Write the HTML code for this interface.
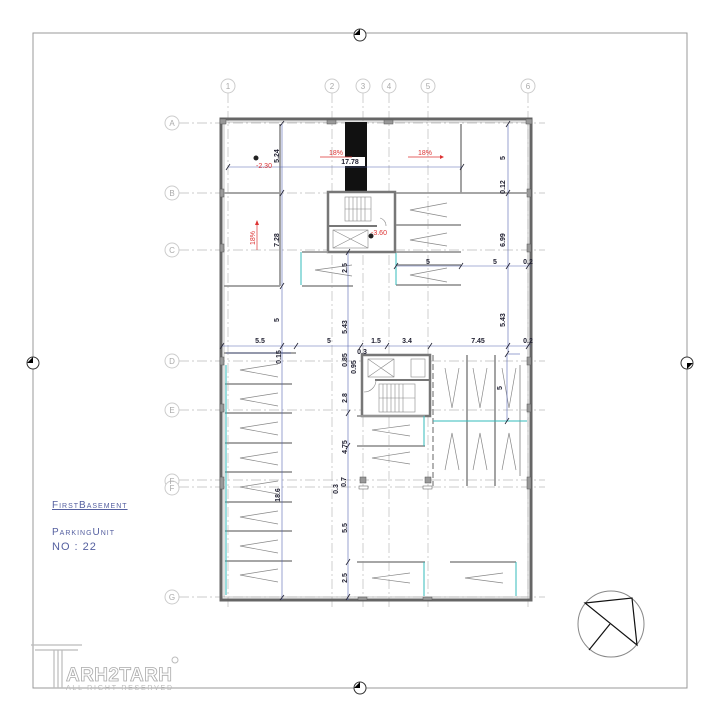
<!DOCTYPE html>
<html><head><meta charset="utf-8"><style>
html,body{margin:0;padding:0;background:#fff;}
svg{display:block;}
text{font-family:"Liberation Sans",sans-serif;}
</style></head><body>
<svg width="720" height="720" viewBox="0 0 720 720" xmlns="http://www.w3.org/2000/svg">
<rect width="720" height="720" fill="#fff"/>
<rect x="33" y="33" width="654" height="655" fill="none" stroke="#999" stroke-width="1"/>
<g fill="#fff" stroke="#333" stroke-width="1">
<circle cx="360" cy="35" r="6"/><circle cx="33" cy="363" r="6"/><circle cx="687" cy="363" r="6"/><circle cx="360" cy="688" r="6"/>
</g>
<g fill="#000"><path d="M354,35 L360,29 L360,35Z"/><path d="M27,363 L33,357 L33,363Z"/><path d="M687,363 L693,363 L687,369Z"/><path d="M354,688 L360,682 L360,688Z"/></g>

<g stroke="#bbb" stroke-width="0.7" stroke-dasharray="10,3,2,3" fill="none">
<line x1="228" y1="93" x2="228" y2="610"/>
<line x1="332" y1="93" x2="332" y2="610"/>
<line x1="363" y1="93" x2="363" y2="610"/>
<line x1="389" y1="93" x2="389" y2="610"/>
<line x1="428" y1="93" x2="428" y2="610"/>
<line x1="528" y1="93" x2="528" y2="610"/>
<line x1="179" y1="123" x2="545" y2="123"/>
<line x1="179" y1="193" x2="545" y2="193"/>
<line x1="179" y1="250" x2="545" y2="250"/>
<line x1="179" y1="361" x2="545" y2="361"/>
<line x1="179" y1="410" x2="545" y2="410"/>
<line x1="179" y1="480" x2="545" y2="480"/>
<line x1="179" y1="487" x2="545" y2="487"/>
<line x1="179" y1="597" x2="545" y2="597"/>
</g>
<g fill="#fff" stroke="#ccc" stroke-width="1">
<circle cx="228" cy="86" r="7"/><circle cx="332" cy="86" r="7"/><circle cx="363" cy="86" r="7"/><circle cx="389" cy="86" r="7"/><circle cx="428" cy="86" r="7"/><circle cx="528" cy="86" r="7"/>
<circle cx="172" cy="123" r="7"/><circle cx="172" cy="193" r="7"/><circle cx="172" cy="250" r="7"/><circle cx="172" cy="361" r="7"/><circle cx="172" cy="410" r="7"/><circle cx="172" cy="481" r="7"/><circle cx="172" cy="488" r="7"/><circle cx="172" cy="597" r="7"/>
</g>
<g fill="#aaa" font-size="8" text-anchor="middle">
<text x="228" y="89">1</text><text x="332" y="89">2</text><text x="363" y="89">3</text><text x="389" y="89">4</text><text x="428" y="89">5</text><text x="528" y="89">6</text>
<text x="172" y="126">A</text><text x="172" y="196">B</text><text x="172" y="253">C</text><text x="172" y="364">D</text><text x="172" y="413">E</text><text x="172" y="484">F</text><text x="172" y="491">F</text><text x="172" y="600">G</text>
</g>

<rect x="221" y="119" width="310" height="481" fill="none" stroke="#666" stroke-width="3"/>
<rect x="224" y="122" width="304" height="475" fill="none" stroke="#aaa" stroke-width="0.7"/>
<g fill="#999" stroke="#555" stroke-width="0.5">
<rect x="220" y="119" width="6" height="5"/><rect x="526" y="119" width="6" height="5"/>
<rect x="327" y="120" width="9" height="4"/><rect x="384" y="120" width="9" height="4"/>
<rect x="220" y="189" width="4" height="8"/><rect x="527" y="189" width="4" height="8"/>
<rect x="220" y="244" width="4" height="8"/><rect x="527" y="244" width="4" height="8"/>
<rect x="220" y="357" width="4" height="8"/><rect x="527" y="357" width="4" height="8"/>
<rect x="220" y="404" width="4" height="8"/><rect x="527" y="404" width="4" height="8"/>
<rect x="220" y="477" width="4" height="12"/><rect x="527" y="477" width="4" height="12"/>
<rect x="358" y="597" width="9" height="3"/><rect x="423" y="597" width="9" height="3"/>
<rect x="360" y="477" width="6" height="6"/><rect x="425" y="477" width="6" height="6"/>
<rect x="359" y="486" width="9" height="3" fill="#fff"/><rect x="423" y="486" width="9" height="3" fill="#fff"/>
<rect x="362" y="355" width="3" height="9"/>
</g>

<rect x="345" y="122" width="22" height="69" fill="#111"/>

<rect x="328" y="192" width="67" height="60" fill="#fff" stroke="#777" stroke-width="2.5"/>
<line x1="328" y1="226" x2="377" y2="226" stroke="#777" stroke-width="2"/>
<g stroke="#888" stroke-width="0.6">
<rect x="345" y="197" width="26" height="24" fill="none"/>
<line x1="345" y1="209" x2="371" y2="209"/>
<line x1="349" y1="197" x2="349" y2="221"/><line x1="353" y1="197" x2="353" y2="221"/><line x1="357" y1="197" x2="357" y2="221"/><line x1="361" y1="197" x2="361" y2="221"/><line x1="365" y1="197" x2="365" y2="221"/>
<rect x="333" y="230" width="35" height="18" fill="none"/>
<line x1="333" y1="230" x2="368" y2="248"/><line x1="333" y1="248" x2="368" y2="230"/>
</g>
<path d="M386,226 A8,8 0 0 0 380,218" fill="none" stroke="#888" stroke-width="0.6"/>

<rect x="362" y="355" width="68" height="61" fill="#fff" stroke="#777" stroke-width="2.5"/>
<line x1="375" y1="380" x2="430" y2="380" stroke="#777" stroke-width="2"/>
<g stroke="#888" stroke-width="0.6" fill="none">
<rect x="368" y="359" width="26" height="18"/><line x1="368" y1="359" x2="394" y2="377"/><line x1="368" y1="377" x2="394" y2="359"/>
<rect x="411" y="359" width="14" height="18"/>
<rect x="379" y="384" width="36" height="28"/>
<line x1="379" y1="398" x2="415" y2="398"/>
<line x1="383" y1="384" x2="383" y2="412"/><line x1="387" y1="384" x2="387" y2="412"/><line x1="391" y1="384" x2="391" y2="412"/><line x1="395" y1="384" x2="395" y2="412"/><line x1="399" y1="384" x2="399" y2="412"/><line x1="403" y1="384" x2="403" y2="412"/>
<path d="M364,392 A12,12 0 0 0 376,380"/>
</g>

<g stroke="#999" stroke-width="1.8" fill="none">
<line x1="224" y1="286" x2="280" y2="286"/>
<line x1="280" y1="124" x2="280" y2="286"/>
<line x1="302" y1="286" x2="353" y2="286"/>
<line x1="302" y1="252" x2="328" y2="252"/>
<line x1="396" y1="252" x2="461" y2="252"/>
<line x1="396" y1="225" x2="461" y2="225"/>
<line x1="396" y1="285" x2="461" y2="285"/>
<line x1="396" y1="265" x2="461" y2="265"/>
<line x1="461" y1="124" x2="461" y2="193"/>
<line x1="396" y1="193" x2="528" y2="193"/>
<line x1="224" y1="193" x2="280" y2="193"/>
<line x1="224" y1="353" x2="296" y2="353"/>
<line x1="225" y1="384" x2="292" y2="384"/><line x1="225" y1="413" x2="292" y2="413"/><line x1="225" y1="443" x2="292" y2="443"/><line x1="225" y1="472" x2="292" y2="472"/><line x1="225" y1="502" x2="292" y2="502"/><line x1="225" y1="531" x2="292" y2="531"/><line x1="225" y1="561" x2="292" y2="561"/>
<line x1="357" y1="446" x2="425" y2="446"/>
<line x1="357" y1="416" x2="425" y2="416"/>
<line x1="357" y1="562" x2="425" y2="562"/><line x1="450" y1="562" x2="516" y2="562"/>
<line x1="467" y1="355" x2="467" y2="486"/><line x1="495" y1="355" x2="495" y2="486"/>
<line x1="520" y1="365" x2="520" y2="476" stroke-width="1"/>
</g>
<line x1="433" y1="355" x2="433" y2="486" stroke="#999" stroke-width="1.5" stroke-dasharray="6,3"/>
<g stroke="#3bb" stroke-width="1">
<line x1="226" y1="365" x2="226" y2="595"/>
<line x1="301" y1="252" x2="301" y2="285"/>
<line x1="396" y1="253" x2="396" y2="285"/>
<line x1="433" y1="421" x2="527" y2="421"/>
<line x1="424" y1="416" x2="424" y2="446"/>
<line x1="424" y1="562" x2="424" y2="596"/>
<line x1="516" y1="562" x2="516" y2="596"/>
</g>

<g stroke="#888" stroke-width="0.7" fill="none">
<path d="M278,364 L240,370 L278,377"/><path d="M278,393 L240,399 L278,406"/><path d="M278,422 L240,428 L278,435"/><path d="M278,452 L240,458 L278,465"/><path d="M278,481 L240,487 L278,494"/><path d="M278,511 L240,517 L278,524"/><path d="M278,540 L240,546 L278,553"/><path d="M278,569 L240,575 L278,582"/>
<path d="M447,203 L410,210 L447,217"/><path d="M447,233 L410,240 L447,246"/><path d="M447,268 L410,275 L447,282"/>
<path d="M352,265 L315,270 L352,276"/>
<path d="M410,425 L372,430 L410,436"/><path d="M410,452 L372,458 L410,464"/><path d="M410,573 L372,578 L410,583"/><path d="M503,573 L465,578 L503,583"/>
<path d="M445,368 L452,408 L459,368"/><path d="M473,368 L480,408 L487,368"/><path d="M502,368 L509,408 L516,368"/>
<path d="M445,470 L452,433 L459,470"/><path d="M473,470 L480,433 L487,470"/><path d="M502,470 L509,433 L516,470"/>
</g>

<g stroke="#5565b0" stroke-width="0.6" fill="none">
<line x1="228" y1="167" x2="462" y2="167"/>
<line x1="282" y1="124" x2="282" y2="600"/>
<line x1="348" y1="252" x2="348" y2="600"/>
<line x1="508" y1="124" x2="508" y2="352"/>
<line x1="396" y1="266" x2="531" y2="266"/>
<line x1="222" y1="346" x2="531" y2="346"/>
<line x1="226" y1="353" x2="291" y2="353"/>
<line x1="507" y1="354" x2="507" y2="421"/>
<line x1="507" y1="354" x2="520" y2="354"/>
</g>
<g stroke="#223" stroke-width="0.8">
<line x1="226" y1="170" x2="230" y2="164"/><line x1="460" y1="170" x2="464" y2="164"/>
<line x1="280" y1="126" x2="284" y2="121"/><line x1="280" y1="196" x2="284" y2="190"/><line x1="280" y1="289" x2="284" y2="283"/><line x1="280" y1="349" x2="284" y2="343"/><line x1="280" y1="600" x2="284" y2="595"/>
<line x1="346" y1="255" x2="350" y2="249"/><line x1="346" y1="416" x2="350" y2="410"/><line x1="346" y1="449" x2="350" y2="443"/><line x1="346" y1="565" x2="350" y2="559"/><line x1="346" y1="600" x2="350" y2="594"/>
<line x1="506" y1="127" x2="510" y2="121"/><line x1="506" y1="196" x2="510" y2="190"/><line x1="506" y1="269" x2="510" y2="263"/><line x1="506" y1="349" x2="510" y2="343"/>
<line x1="394" y1="269" x2="398" y2="263"/><line x1="459" y1="269" x2="463" y2="263"/><line x1="526" y1="269" x2="530" y2="263"/>
<line x1="220" y1="349" x2="224" y2="343"/><line x1="294" y1="349" x2="298" y2="343"/><line x1="359" y1="349" x2="363" y2="343"/><line x1="385" y1="349" x2="389" y2="343"/><line x1="428" y1="349" x2="432" y2="343"/><line x1="526" y1="349" x2="530" y2="343"/>
<line x1="505" y1="357" x2="509" y2="351"/><line x1="505" y1="424" x2="509" y2="418"/>
</g>
<g fill="#223" font-size="7" font-weight="bold" text-anchor="middle">
<text x="260" y="343">5.5</text><text x="329" y="343">5</text><text x="376" y="343">1.5</text><text x="407" y="343">3.4</text><text x="478" y="343">7.45</text><text x="528" y="343">0.2</text>
<text x="428" y="264">5</text><text x="495" y="264">5</text><text x="528" y="264">0.2</text>
<text x="362" y="354">0.3</text>
<text transform="translate(279,156) rotate(-90)">5.24</text>
<text transform="translate(279,240) rotate(-90)">7.28</text>
<text transform="translate(279,320) rotate(-90)">5</text>
<text transform="translate(347,268) rotate(-90)">2.5</text>
<text transform="translate(347,327) rotate(-90)">5.43</text>
<text transform="translate(347,360) rotate(-90)">0.85</text>
<text transform="translate(356,367) rotate(-90)">0.95</text>
<text transform="translate(347,398) rotate(-90)">2.8</text>
<text transform="translate(347,447) rotate(-90)">4.75</text>
<text transform="translate(346,482) rotate(-90)">0.7</text>
<text transform="translate(338,489) rotate(-90)">0.3</text>
<text transform="translate(347,528) rotate(-90)">5.5</text>
<text transform="translate(347,578) rotate(-90)">2.5</text>
<text transform="translate(280,495) rotate(-90)">18.6</text>
<text transform="translate(281,357) rotate(-90)">0.15</text>
<text transform="translate(505,158) rotate(-90)">5</text>
<text transform="translate(505,187) rotate(-90)">0.12</text>
<text transform="translate(505,240) rotate(-90)">6.99</text>
<text transform="translate(505,320) rotate(-90)">5.43</text>
<text transform="translate(502,388) rotate(-90)">5</text>
</g>
<rect x="335" y="157" width="30" height="9" fill="#fff"/>
<text x="350" y="164" fill="#223" font-size="7" font-weight="bold" text-anchor="middle">17.78</text>
<g fill="#d33" font-size="7" text-anchor="middle">
<text x="336" y="155">18%</text><text x="425" y="155">18%</text>
<text x="264" y="168">-2.30</text><text x="379" y="235">-3.60</text>
<text transform="translate(255,238) rotate(-90)">18%</text>
</g>
<g stroke="#d33" stroke-width="0.7">
<line x1="320" y1="157" x2="352" y2="157"/><line x1="408" y1="157" x2="440" y2="157"/>
<line x1="257" y1="225" x2="257" y2="250"/>
</g>
<path d="M440,155 L444,157 L440,159Z M255,225 L257,220 L259,225Z" fill="#d33"/>
<circle cx="256" cy="158" r="2.5" fill="#222"/><circle cx="371" cy="236" r="2.5" fill="#222"/>

<g fill="#5560a0" font-size="10" letter-spacing="1" style="font-variant:small-caps">
<text x="52" y="508" text-decoration="underline">FirstBasement</text>
<text x="52" y="535">ParkingUnit</text>
<text x="52" y="550" font-size="11">NO : 22</text>
</g>

<circle cx="611" cy="624" r="33" fill="none" stroke="#888" stroke-width="1"/>
<g stroke="#111" stroke-width="1.2" fill="none">
<path d="M585,603 L632,598 L637,645 Z"/>
<line x1="610" y1="624" x2="589" y2="650"/>
</g>

<g stroke="#bbb" fill="none" stroke-width="1.2">
<line x1="31" y1="645" x2="82" y2="645"/><line x1="35" y1="650" x2="78" y2="650"/>
<line x1="54" y1="650" x2="54" y2="688"/><line x1="58" y1="650" x2="58" y2="688"/><line x1="62" y1="650" x2="62" y2="688"/>
</g>
<text x="66" y="681" fill="#fff" stroke="#aaa" stroke-width="0.8" font-size="19" font-weight="bold" textLength="106">ARH2TARH</text>
<text x="66" y="690" fill="#bbb" font-size="7" textLength="106">ALL RIGHT RESERVED</text>
<circle cx="175" cy="660" r="3" fill="none" stroke="#bbb"/>
</svg>
</body></html>
